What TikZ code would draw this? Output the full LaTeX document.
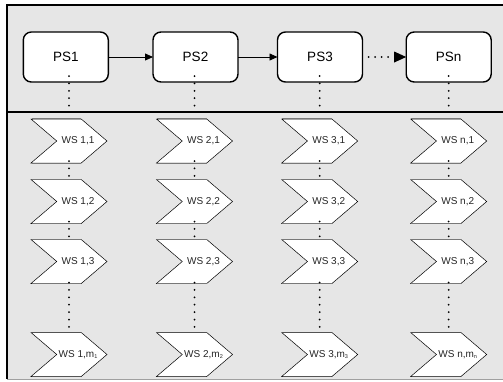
\documentclass[tikz,border=0pt]{standalone}
\usepackage{fontspec}
\setmainfont{Liberation Sans}
\usetikzlibrary{arrows.meta,shapes.symbols}
\definecolor{bgray}{RGB}{230,230,230}
\definecolor{edgegray}{RGB}{120,120,120}
\newcommand{\wsub}[1]{\raisebox{-1.2pt}{\fontsize{5.5}{6}\selectfont #1}}
\tikzset{
  psbox/.style={draw=black, fill=white, line width=1.4pt, rounded corners=8pt,
    minimum width=85pt, minimum height=50pt, inner sep=0pt, outer sep=0pt,
    font=\fontsize{13.5}{16}\selectfont},
  wsbox/.style={shape=signal, signal from=west, signal to=east,
    signal pointer angle=81, draw=black, fill=white, line width=0.5pt,
    minimum width=76pt, minimum height=44pt, inner sep=0pt, outer sep=0pt},
  wslab/.style={xshift=9pt, inner sep=0pt, text=black!85,
    font=\fontsize{10}{12}\selectfont},
  solidarr/.style={line width=0.8pt, -{Triangle[length=8pt,width=7pt]}},
  dotarr/.style={line width=2pt, line cap=round, dash pattern=on 0pt off 6.5pt,
    -{Triangle[length=12pt,width=11pt,line width=0pt]}},
  dotline/.style={line width=2pt, line cap=round, dash pattern=on 0pt off 7.4pt},
  topedge/.style={draw=edgegray, line width=1.3pt}
}
\begin{document}
\begin{tikzpicture}[x=1pt,y=-1pt]
\useasboundingbox (0,0) rectangle (503,381);
% background frame
\fill[bgray] (7,5) rectangle (503,379);
\draw[edgegray!70, line width=0.8pt] (7,379) -- (503,379);
\draw[line width=1.5pt] (503,5) -- (7,5) -- (7,379.4);
\draw[line width=1.5pt] (7,112) -- (503,112);
% process steps
\node[psbox] (p1) at (65.8,57) {PS1};
\node[psbox] (p2) at (195.5,57) {PS2};
\node[psbox] (p3) at (320,57) {PS3};
\node[psbox] (pn) at (448.7,57) {PSn};
\draw[solidarr] (p1) -- (p2);
\draw[solidarr] (p2) -- (p3);
\draw[dotarr] ([xshift=6pt]p3.east) -- (pn.west);
% work steps
\foreach \col/\x in {1/69,2/194.5,3/319.7,n/448.7} {
  \coordinate (d\col) at (\x,112);
  \draw[dotline] ([yshift=6pt]p\col.south -| d\col) -- (d\col);
  \node[wsbox, label={[wslab]center:{WS \col,1}}] (w\col1) at (\x,141) {};
  \node[wsbox, label={[wslab]center:{WS \col,2}}] (w\col2) at (\x,201.5) {};
  \node[wsbox, label={[wslab]center:{WS \col,3}}] (w\col3) at (\x,261.5) {};
  \node[wsbox, label={[wslab]center:{WS \col,m\wsub{\col}}}] (w\col m) at (\x,354.5) {};
  \foreach \r in {1,2,3} {
    \draw[topedge] ([xshift=-37.5pt,yshift=0.3pt]w\col\r.north) -- ([xshift=12pt,yshift=0.3pt]w\col\r.north);
    \draw[topedge] ([xshift=-37.5pt,yshift=-0.3pt]w\col\r.south) -- ([xshift=12pt,yshift=-0.3pt]w\col\r.south);
  }
  \draw[dotline] ([yshift=2pt]w\col1.south) -- (w\col2.north);
  \draw[dotline] ([yshift=2pt]w\col2.south) -- (w\col3.north);
  \draw[dotline] ([yshift=1pt]w\col3.south) -- (w\col m.north);
}
\end{tikzpicture}
\end{document}
